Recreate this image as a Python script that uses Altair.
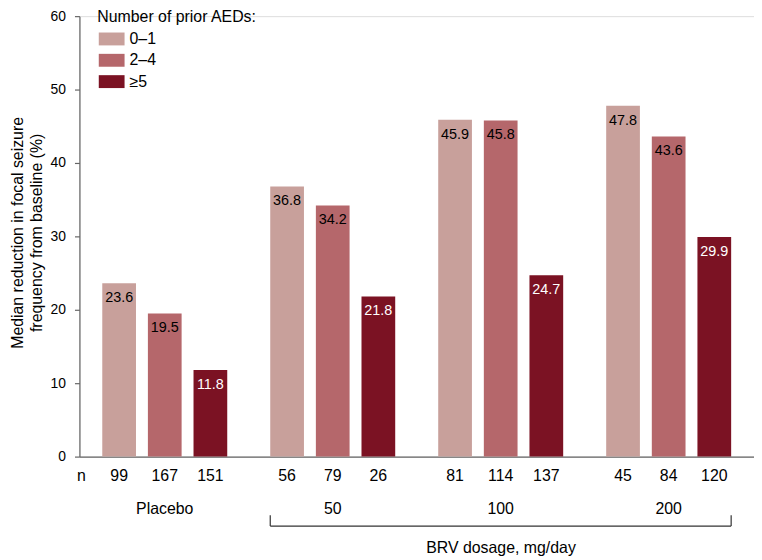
import altair as alt
import pandas as pd

groups = ["Placebo", "50", "100", "200"]
series = ["0–1", "2–4", "≥5"]
values = [
    [23.6, 19.5, 11.8],
    [36.8, 34.2, 21.8],
    [45.9, 45.8, 24.7],
    [47.8, 43.6, 29.9],
]
n_counts = [
    [99, 167, 151],
    [56, 79, 26],
    [81, 114, 137],
    [45, 84, 120],
]
colors = ["#c8a09b", "#b5676b", "#7b1223"]
y_ticks = [0, 10, 20, 30, 40, 50, 60]

rows = []
for gi, g in enumerate(groups):
    for si, s in enumerate(series):
        rows.append({"group": g, "series": s, "value": values[gi][si], "n": n_counts[gi][si]})
df = pd.DataFrame(rows)

FONT = "Liberation Sans"
W, H = 680, 444

xscale = alt.Scale(domain=groups, paddingInner=0.256, paddingOuter=0.136, align=0.5)
oscale = alt.Scale(domain=series, paddingInner=0.261, paddingOuter=0)

base = alt.Chart(df)

bars = base.mark_bar().encode(
    x=alt.X("group:N", scale=xscale, sort=groups,
            axis=alt.Axis(labels=False, ticks=False, title=None, domainColor="#666666", domainWidth=1.2)),
    xOffset=alt.XOffset("series:N", scale=oscale, sort=series),
    y=alt.Y("value:Q", scale=alt.Scale(domain=[0, 60], nice=False),
            axis=alt.Axis(values=y_ticks, grid=False, domainColor="#666666", domainWidth=1.2,
                          tickColor="#666666", tickSize=5, tickWidth=1.2,
                          labelFontSize=14, labelFont=FONT, labelColor="black", labelPadding=9,
                          title=["Median reduction in focal seizure", "frequency from baseline (%)"],
                          titleFont=FONT, titleFontSize=16, titleFontWeight="normal",
                          titleColor="black", titleAngle=-90, titleAlign="center",
                          titleBaseline="top", titleX=-70, titleY=H / 2 - 4, titleLineHeight=19)),
    color=alt.Color("series:N", sort=series,
                    scale=alt.Scale(domain=series, range=colors),
                    legend=alt.Legend(title="Number of prior AEDs:", orient="none",
                                      legendX=18, legendY=-7,
                                      titleFont=FONT, titleFontSize=16, titleFontWeight="normal",
                                      titleColor="black", titlePadding=6,
                                      labelFont=FONT, labelFontSize=16, labelColor="black",
                                      symbolType="M-2,-1H2V1H-2Z", symbolSize=169,
                                      symbolOffset=6.5,
                                      symbolStrokeWidth=0, symbolOpacity=1,
                                      labelOffset=10, rowPadding=5.5)),
)

labels = base.mark_text(baseline="top", dy=8, font=FONT, fontSize=14.5).encode(
    x=alt.X("group:N", scale=xscale, sort=groups),
    xOffset=alt.XOffset("series:N", scale=oscale, sort=series),
    y=alt.Y("value:Q"),
    text=alt.Text("value:Q", format=".1f"),
    color=alt.condition(alt.datum.series == "≥5", alt.value("white"), alt.value("black")),
)

n_text = base.mark_text(baseline="middle", font=FONT, fontSize=16, color="black").encode(
    x=alt.X("group:N", scale=xscale, sort=groups),
    xOffset=alt.XOffset("series:N", scale=oscale, sort=series),
    y=alt.value(H + 20),
    text=alt.Text("n:Q"),
)

n_label = alt.Chart(pd.DataFrame({"t": ["n"]})).mark_text(
    baseline="middle", font=FONT, fontSize=16, color="black").encode(
    x=alt.value(2), y=alt.value(H + 20), text="t:N")

group_df = pd.DataFrame({"group": groups})
group_text = alt.Chart(group_df).mark_text(baseline="middle", font=FONT, fontSize=16, color="black").encode(
    x=alt.X("group:N", scale=xscale, sort=groups),
    y=alt.value(H + 53),
    text="group:N",
)

bracket_df = pd.DataFrame({"start": ["50"], "end": ["200"], "label": ["BRV dosage, mg/day"]})
bracket = alt.Chart(bracket_df).mark_rule(color="#333333", strokeWidth=1.2).encode(
    x=alt.X("start:N", scale=xscale, bandPosition=0),
    x2=alt.X2("end:N", bandPosition=1),
    y=alt.value(H + 70),
)
tick_l = alt.Chart(bracket_df).mark_rule(color="#333333", strokeWidth=1.2).encode(
    x=alt.X("start:N", scale=xscale, bandPosition=0),
    y=alt.value(H + 59), y2=alt.value(H + 70),
)
tick_r = alt.Chart(bracket_df).mark_rule(color="#333333", strokeWidth=1.2).encode(
    x=alt.X("end:N", scale=xscale, bandPosition=1),
    y=alt.value(H + 59), y2=alt.value(H + 70),
)
brv_text = alt.Chart(bracket_df).mark_text(baseline="middle", font=FONT, fontSize=16, color="black").encode(
    x=alt.value(425),
    y=alt.value(H + 92),
    text="label:N",
)

chart = alt.layer(bars, labels, n_text, n_label, group_text, bracket, tick_l, tick_r, brv_text).properties(
    width=W, height=H,
    autosize=alt.AutoSizeParams(type="none"),
    padding={"left": 72, "top": 6, "right": 0, "bottom": 100},
).configure_view(stroke=None).configure(font=FONT)

chart.save("out.html", embed_options={"renderer": "svg", "actions": False})
